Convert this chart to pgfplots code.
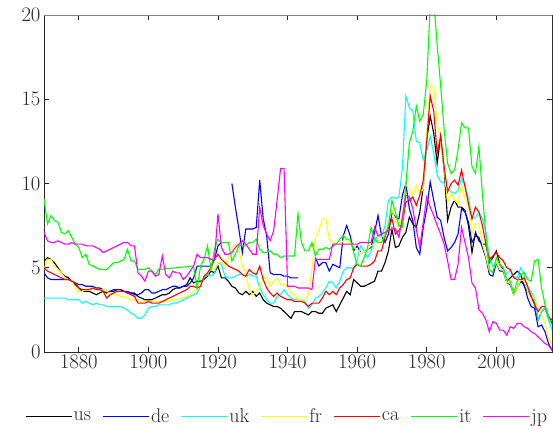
\documentclass[border=0pt]{standalone}
\usepackage{pgfplots}
\usepackage{pgfplotstable}
\pgfplotsset{compat=1.18}
\definecolor{cUS}{RGB}{0,0,0}
\definecolor{cDE}{RGB}{0,0,255}
\definecolor{cUK}{RGB}{0,255,255}
\definecolor{cFR}{RGB}{255,255,0}
\definecolor{cCA}{RGB}{255,0,0}
\definecolor{cIT}{RGB}{0,255,0}
\definecolor{cJP}{RGB}{255,0,255}
\definecolor{axdark}{RGB}{38,38,38}
\definecolor{axgray}{RGB}{128,128,128}

\pgfplotstableread{
year val
1870 5.4
1871 5.6
1872 5.5
1873 5.3
1874 5.0
1875 4.7
1876 4.5
1877 4.4
1878 4.2
1879 4.0
1880 3.8
1881 3.6
1882 3.6
1883 3.6
1884 3.5
1885 3.4
1886 3.5
1887 3.6
1888 3.5
1889 3.6
1890 3.6
1891 3.7
1892 3.7
1893 3.6
1894 3.5
1895 3.5
1896 3.5
1897 3.3
1898 3.2
1899 3.1
1900 3.1
1901 3.1
1902 3.2
1903 3.3
1904 3.4
1905 3.4
1906 3.5
1907 3.7
1908 3.8
1909 3.8
1910 3.9
1911 4.0
1912 4.4
1913 4.1
1914 4.2
1915 4.2
1916 4.3
1917 4.5
1918 4.8
1919 4.7
1920 5.1
1921 4.4
1922 4.4
1923 4.2
1924 3.9
1925 3.8
1926 3.5
1927 3.4
1928 3.6
1929 3.4
1930 3.6
1931 3.3
1932 3.5
1933 3.1
1934 2.9
1935 2.8
1936 2.7
1937 2.7
1938 2.6
1939 2.4
1940 2.2
1941 2.0
1942 2.4
1943 2.4
1944 2.4
1945 2.3
1946 2.2
1947 2.4
1948 2.4
1949 2.3
1950 2.3
1951 2.6
1952 2.7
1953 2.8
1954 2.4
1955 2.8
1956 3.2
1957 3.6
1958 3.4
1959 4.3
1960 4.1
1961 3.9
1962 3.9
1963 4.0
1964 4.1
1965 4.2
1966 4.8
1967 4.8
1968 5.3
1969 6.0
1970 7.3
1971 6.2
1972 6.3
1973 6.8
1974 7.1
1975 8.0
1976 7.6
1977 7.4
1978 8.3
1979 9.8
1980 12.6
1981 14.0
1982 13.0
1983 11.2
1984 12.8
1985 10.8
1986 7.8
1987 8.6
1988 9.0
1989 8.6
1990 8.6
1991 8.4
1992 7.5
1993 5.9
1994 7.1
1995 6.6
1996 6.4
1997 6.4
1998 5.3
1999 5.6
2000 6.0
2001 5.2
2002 4.9
2003 4.2
2004 4.4
2005 4.6
2006 4.8
2007 4.6
2008 3.9
2009 3.6
2010 3.3
2011 2.9
2012 1.9
2013 2.4
2014 2.6
2015 2.1
2016 1.7
}\tabUS

\pgfplotstableread{
year val
1870 4.7
1871 4.4
1872 4.3
1873 4.3
1874 4.3
1875 4.3
1876 4.3
1877 4.3
1878 4.2
1879 4.1
1880 4.0
1881 4.0
1882 3.9
1883 3.9
1884 3.9
1885 3.8
1886 3.8
1887 3.7
1888 3.6
1889 3.6
1890 3.7
1891 3.7
1892 3.7
1893 3.6
1894 3.6
1895 3.5
1896 3.4
1897 3.4
1898 3.5
1899 3.7
1900 3.7
1901 3.5
1902 3.5
1903 3.6
1904 3.7
1905 3.7
1906 3.8
1907 3.9
1908 3.9
1909 3.8
1910 3.9
1911 3.9
1912 4.1
1913 4.4
1914 5.1
1915 5.1
1916 5.1
1917 5.1
1918 5.1
1919 5.5
1920 6.3
1921 6.5
1922 nan
1923 nan
1924 10.0
1925 8.6
1926 7.3
1927 5.9
1928 7.3
1929 7.3
1930 7.3
1931 7.4
1932 10.2
1933 7.9
1934 6.9
1935 4.7
1936 4.6
1937 4.6
1938 4.6
1939 4.5
1940 4.5
1941 4.4
1942 4.4
1943 4.4
1944 nan
1945 nan
1946 nan
1947 nan
1948 5.6
1949 5.1
1950 5.3
1951 5.3
1952 4.8
1953 5.2
1954 5.1
1955 5.0
1956 6.9
1957 7.5
1958 6.9
1959 6.0
1960 6.3
1961 5.9
1962 5.9
1963 6.1
1964 6.2
1965 7.1
1966 8.1
1967 6.9
1968 6.5
1969 7.0
1970 8.3
1971 8.0
1972 7.9
1973 9.3
1974 10.0
1975 8.5
1976 7.8
1977 6.2
1978 5.8
1979 7.4
1980 8.5
1981 10.1
1982 9.0
1983 8.0
1984 7.8
1985 6.8
1986 6.0
1987 6.2
1988 6.5
1989 7.0
1990 8.5
1991 8.3
1992 7.7
1993 6.5
1994 6.9
1995 6.8
1996 6.2
1997 5.6
1998 4.6
1999 4.5
2000 5.3
2001 4.8
2002 4.8
2003 4.1
2004 4.0
2005 3.4
2006 3.8
2007 4.2
2008 4.0
2009 3.2
2010 2.7
2011 2.6
2012 1.5
2013 1.6
2014 1.2
2015 0.5
2016 0.1
}\tabDE

\pgfplotstableread{
year val
1870 3.2
1871 3.2
1872 3.2
1873 3.2
1874 3.2
1875 3.2
1876 3.2
1877 3.1
1878 3.1
1879 3.1
1880 3.1
1881 2.9
1882 3.0
1883 2.9
1884 2.8
1885 2.9
1886 2.8
1887 2.8
1888 2.7
1889 2.7
1890 2.7
1891 2.7
1892 2.7
1893 2.6
1894 2.5
1895 2.3
1896 2.2
1897 2.0
1898 2.0
1899 2.2
1900 2.6
1901 2.7
1902 2.7
1903 2.8
1904 2.8
1905 2.8
1906 2.8
1907 2.9
1908 2.9
1909 3.0
1910 3.1
1911 3.2
1912 3.3
1913 3.4
1914 3.5
1915 3.9
1916 4.4
1917 4.6
1918 4.5
1919 4.7
1920 5.3
1921 5.2
1922 4.5
1923 4.4
1924 4.4
1925 4.5
1926 4.6
1927 4.6
1928 4.5
1929 4.6
1930 4.5
1931 4.5
1932 3.8
1933 3.4
1934 3.1
1935 2.9
1936 2.9
1937 3.3
1938 3.4
1939 3.7
1940 3.4
1941 3.2
1942 3.1
1943 3.1
1944 3.1
1945 3.0
1946 2.6
1947 2.8
1948 3.2
1949 3.3
1950 3.5
1951 3.8
1952 4.2
1953 4.1
1954 3.8
1955 4.2
1956 4.8
1957 5.0
1958 5.0
1959 4.9
1960 5.5
1961 6.3
1962 6.0
1963 5.6
1964 6.0
1965 6.6
1966 6.9
1967 6.8
1968 7.5
1969 9.0
1970 9.2
1971 9.1
1972 9.2
1973 10.9
1974 15.2
1975 14.5
1976 14.3
1977 12.5
1978 12.4
1979 11.4
1980 11.9
1981 12.8
1982 11.8
1983 10.5
1984 10.1
1985 10.0
1986 9.7
1987 9.5
1988 9.4
1989 9.6
1990 10.3
1991 9.9
1992 9.1
1993 7.9
1994 8.0
1995 8.3
1996 7.9
1997 7.1
1998 5.6
1999 5.1
2000 5.3
2001 4.9
2002 4.9
2003 4.6
2004 4.9
2005 4.5
2006 4.4
2007 5.0
2008 4.6
2009 3.7
2010 3.6
2011 3.1
2012 1.9
2013 2.4
2014 2.6
2015 1.9
2016 1.3
}\tabUK

\pgfplotstableread{
year val
1870 4.9
1871 5.5
1872 5.5
1873 5.1
1874 4.9
1875 4.7
1876 4.4
1877 4.3
1878 4.2
1879 3.8
1880 3.6
1881 3.6
1882 3.7
1883 3.8
1884 3.8
1885 3.7
1886 3.6
1887 3.7
1888 3.6
1889 3.5
1890 3.4
1891 3.4
1892 3.3
1893 3.3
1894 3.2
1895 3.1
1896 3.1
1897 3.0
1898 3.0
1899 3.0
1900 3.0
1901 3.0
1902 3.0
1903 3.0
1904 3.0
1905 3.0
1906 3.0
1907 3.1
1908 3.1
1909 3.2
1910 3.2
1911 3.3
1912 3.4
1913 3.6
1914 3.7
1915 4.0
1916 4.5
1917 4.7
1918 5.0
1919 4.9
1920 5.3
1921 5.3
1922 5.1
1923 5.6
1924 6.1
1925 6.4
1926 6.1
1927 5.1
1928 4.7
1929 3.7
1930 3.4
1931 3.6
1932 3.8
1933 4.4
1934 4.4
1935 3.9
1936 4.2
1937 4.4
1938 4.0
1939 4.0
1940 3.9
1941 3.5
1942 3.4
1943 3.1
1944 3.1
1945 3.1
1946 3.4
1947 4.9
1948 6.8
1949 7.2
1950 7.9
1951 7.9
1952 6.7
1953 6.5
1954 6.4
1955 6.4
1956 6.6
1957 6.7
1958 6.4
1959 6.3
1960 6.0
1961 5.9
1962 5.9
1963 6.1
1964 6.3
1965 6.4
1966 6.6
1967 6.8
1968 7.0
1969 7.7
1970 8.4
1971 7.8
1972 7.4
1973 8.2
1974 10.0
1975 9.6
1976 9.3
1977 9.9
1978 9.3
1979 9.7
1980 13.0
1981 15.8
1982 15.7
1983 13.6
1984 12.5
1985 10.9
1986 8.9
1987 9.4
1988 9.0
1989 8.8
1990 9.9
1991 9.1
1992 8.7
1993 7.0
1994 7.6
1995 7.6
1996 6.4
1997 5.7
1998 4.8
1999 4.8
2000 5.4
2001 4.9
2002 4.9
2003 4.1
2004 4.1
2005 3.4
2006 3.8
2007 4.3
2008 4.2
2009 3.6
2010 3.1
2011 3.3
2012 2.5
2013 2.2
2014 1.7
2015 0.8
2016 0.5
}\tabFR

\pgfplotstableread{
year val
1870 5.0
1871 4.8
1872 4.7
1873 4.6
1874 4.5
1875 4.4
1876 4.3
1877 4.3
1878 4.2
1879 4.1
1880 3.8
1881 3.7
1882 3.7
1883 3.7
1884 3.8
1885 3.7
1886 3.7
1887 3.6
1888 3.2
1889 3.4
1890 3.5
1891 3.6
1892 3.6
1893 3.6
1894 3.5
1895 3.4
1896 3.3
1897 2.9
1898 2.9
1899 2.9
1900 3.0
1901 2.9
1902 2.9
1903 2.9
1904 3.0
1905 3.1
1906 3.2
1907 3.3
1908 3.4
1909 3.5
1910 3.6
1911 3.7
1912 3.9
1913 3.9
1914 3.8
1915 3.9
1916 4.5
1917 4.7
1918 5.0
1919 5.5
1920 5.8
1921 5.5
1922 5.3
1923 5.1
1924 5.0
1925 4.9
1926 4.8
1927 4.6
1928 4.5
1929 4.9
1930 4.7
1931 4.6
1932 5.1
1933 4.3
1934 3.8
1935 3.5
1936 3.3
1937 3.5
1938 3.3
1939 3.2
1940 3.1
1941 3.1
1942 3.0
1943 3.0
1944 3.0
1945 2.9
1946 2.7
1947 2.9
1948 2.9
1949 2.9
1950 3.2
1951 3.6
1952 3.4
1953 3.6
1954 3.4
1955 3.8
1956 4.0
1957 4.3
1958 4.4
1959 5.0
1960 5.2
1961 5.1
1962 5.1
1963 5.1
1964 5.2
1965 5.4
1966 6.0
1967 6.0
1968 6.8
1969 7.4
1970 7.9
1971 7.0
1972 7.2
1973 7.6
1974 8.9
1975 9.0
1976 9.2
1977 8.7
1978 9.3
1979 10.2
1980 12.5
1981 15.2
1982 14.3
1983 11.8
1984 12.8
1985 11.0
1986 9.5
1987 10.0
1988 10.2
1989 9.9
1990 10.8
1991 9.8
1992 8.8
1993 7.9
1994 8.6
1995 8.3
1996 7.5
1997 6.4
1998 5.5
1999 5.7
2000 5.9
2001 5.6
2002 5.4
2003 5.0
2004 4.9
2005 4.4
2006 4.3
2007 4.3
2008 4.4
2009 3.9
2010 3.3
2011 2.8
2012 2.4
2013 2.7
2014 2.7
2015 2.1
2016 1.9
}\tabCA

\pgfplotstableread{
year val
1870 9.1
1871 7.6
1872 8.1
1873 7.8
1874 7.7
1875 7.1
1876 7.0
1877 7.2
1878 6.8
1879 6.4
1880 6.2
1881 5.6
1882 5.8
1883 5.2
1884 5.1
1885 5.0
1886 4.9
1887 4.9
1888 4.9
1889 5.1
1890 5.3
1891 5.3
1892 5.4
1893 5.5
1894 6.1
1895 5.4
1896 5.4
1897 4.9
1898 4.9
1899 4.9
1900 5.0
1901 4.8
1902 4.6
1903 4.9
1913 5.1
1914 3.8
1915 5.1
1916 5.5
1917 6.3
1918 4.9
1919 6.1
1920 6.7
1921 6.5
1922 6.5
1923 6.5
1924 5.4
1925 5.8
1926 6.3
1927 6.3
1928 6.3
1929 6.5
1930 6.5
1931 6.7
1932 6.1
1933 5.9
1934 5.9
1935 6.0
1936 5.8
1937 5.8
1938 5.6
1939 5.7
1940 5.7
1941 5.7
1942 5.7
1943 8.2
1944 6.5
1945 6.0
1946 6.0
1947 6.5
1948 5.7
1949 6.1
1950 6.1
1951 6.2
1952 6.1
1953 6.3
1954 6.4
1955 6.7
1956 6.9
1957 6.7
1958 6.7
1959 5.9
1960 5.2
1961 5.1
1962 5.6
1963 6.2
1964 7.4
1965 6.7
1966 6.5
1967 6.5
1968 6.9
1969 7.5
1970 9.0
1971 8.3
1972 7.5
1973 7.4
1974 9.9
1975 12.4
1976 13.1
1977 14.6
1978 13.7
1979 14.1
1980 16.1
1981 20.6
1982 20.9
1983 18.2
1984 15.8
1985 13.2
1986 11.2
1987 10.6
1988 10.8
1989 12.0
1990 13.6
1991 13.3
1992 13.3
1993 11.0
1994 10.6
1995 12.2
1996 9.4
1997 6.9
1998 4.9
1999 4.7
2000 5.6
2001 5.2
2002 5.0
2003 4.3
2004 4.2
2005 3.5
2006 4.2
2007 4.6
2008 4.7
2009 4.3
2010 4.2
2011 5.4
2012 5.5
2013 3.8
2014 2.8
2015 2.1
2016 1.6
}\tabIT

\pgfplotstableread{
year val
1870 7.1
1871 6.6
1872 6.5
1873 6.5
1874 6.6
1875 6.5
1876 6.4
1877 6.4
1878 6.5
1879 6.4
1880 6.4
1881 6.4
1882 6.3
1883 6.3
1884 6.3
1885 6.2
1886 6.1
1887 5.9
1888 6.0
1889 6.1
1890 6.2
1891 6.3
1892 6.4
1893 6.5
1894 6.5
1895 6.3
1896 6.3
1897 4.7
1898 4.5
1899 4.2
1900 4.8
1901 4.8
1902 4.5
1903 4.6
1904 5.7
1905 4.6
1906 4.4
1907 4.8
1908 4.7
1909 4.7
1910 4.3
1911 4.5
1912 4.8
1913 5.1
1914 5.8
1915 5.6
1916 5.6
1917 5.6
1918 5.5
1919 5.5
1920 8.2
1921 6.2
1922 5.8
1923 5.8
1924 5.9
1925 6.2
1926 6.4
1927 6.6
1928 6.4
1929 6.1
1930 5.8
1931 5.8
1932 8.6
1933 7.5
1934 7.0
1935 6.6
1936 7.2
1937 9.0
1938 10.9
1939 10.9
1940 3.9
1941 3.9
1942 3.9
1943 3.8
1944 3.8
1945 3.8
1946 3.8
1947 3.7
1948 5.5
1949 5.5
1950 5.5
1951 5.5
1952 5.5
1953 6.4
1954 6.4
1955 6.4
1956 6.4
1957 6.4
1958 6.4
1959 6.4
1960 6.4
1961 6.5
1962 6.5
1963 6.5
1964 6.5
1965 7.4
1966 6.9
1967 7.0
1968 7.1
1969 7.2
1970 7.3
1971 7.3
1972 6.8
1973 8.0
1974 9.3
1975 9.2
1976 8.5
1977 7.3
1978 6.2
1979 7.7
1980 9.2
1981 8.6
1982 8.1
1983 7.5
1984 7.0
1985 6.4
1986 5.4
1987 4.3
1988 4.3
1989 5.2
1990 7.4
1991 6.5
1992 5.6
1993 4.1
1994 3.8
1995 2.5
1996 2.3
1997 1.9
1998 1.2
1999 1.8
2000 1.7
2001 1.3
2002 1.3
2003 1.0
2004 1.5
2005 1.4
2006 1.7
2007 1.7
2008 1.5
2009 1.4
2010 1.2
2011 1.1
2012 0.9
2013 0.7
2014 0.5
2015 0.4
2016 0.1
}\tabJP

\begin{document}
\begin{tikzpicture}
\useasboundingbox (0,0) rectangle (553bp,430bp);
\begin{axis}[
  at={(44bp,78bp)}, anchor=south west,
  width=508bp, height=337bp, scale only axis,
  xmin=1870, xmax=2016, ymin=0, ymax=20,
  xtick={1880,1900,1920,1940,1960,1980,2000},
  ytick={0,5,10,15,20},
  /pgf/number format/1000 sep={},
  tick label style={font=\fontsize{21}{25}\selectfont, text=axdark},
  tick align=inside, major tick length=5bp,
  axis line style={axdark, line width=0.8bp}, every tick/.style={axdark, line width=0.6bp},
  unbounded coords=jump,
  legend columns=7,
  legend style={draw=none, fill=none, at={(0.478,-0.192)}, anchor=center,
    font=\fontsize{20}{22}\selectfont, text=axdark,
    nodes={inner xsep=1.5bp},
    /tikz/every even column/.append style={column sep=10bp}},
  legend image code/.code={\draw[#1] (0bp,0bp) -- (46bp,0bp);},
  every axis plot/.append style={line width=1.1bp},
]
\addplot[cUS] table[x=year,y=val] {\tabUS};
\addlegendentry{us}
\addplot[cDE] table[x=year,y=val] {\tabDE};
\addlegendentry{de}
\addplot[cUK] table[x=year,y=val] {\tabUK};
\addlegendentry{uk}
\addplot[cFR] table[x=year,y=val] {\tabFR};
\addlegendentry{fr}
\addplot[cCA] table[x=year,y=val] {\tabCA};
\addlegendentry{ca}
\addplot[cIT] table[x=year,y=val] {\tabIT};
\addlegendentry{it}
\addplot[cJP] table[x=year,y=val] {\tabJP};
\addlegendentry{jp}
\draw[axgray, line width=0.8bp] (rel axis cs:0,1) -- (rel axis cs:1,1) -- (rel axis cs:1,0);
\end{axis}
\end{tikzpicture}
\end{document}
